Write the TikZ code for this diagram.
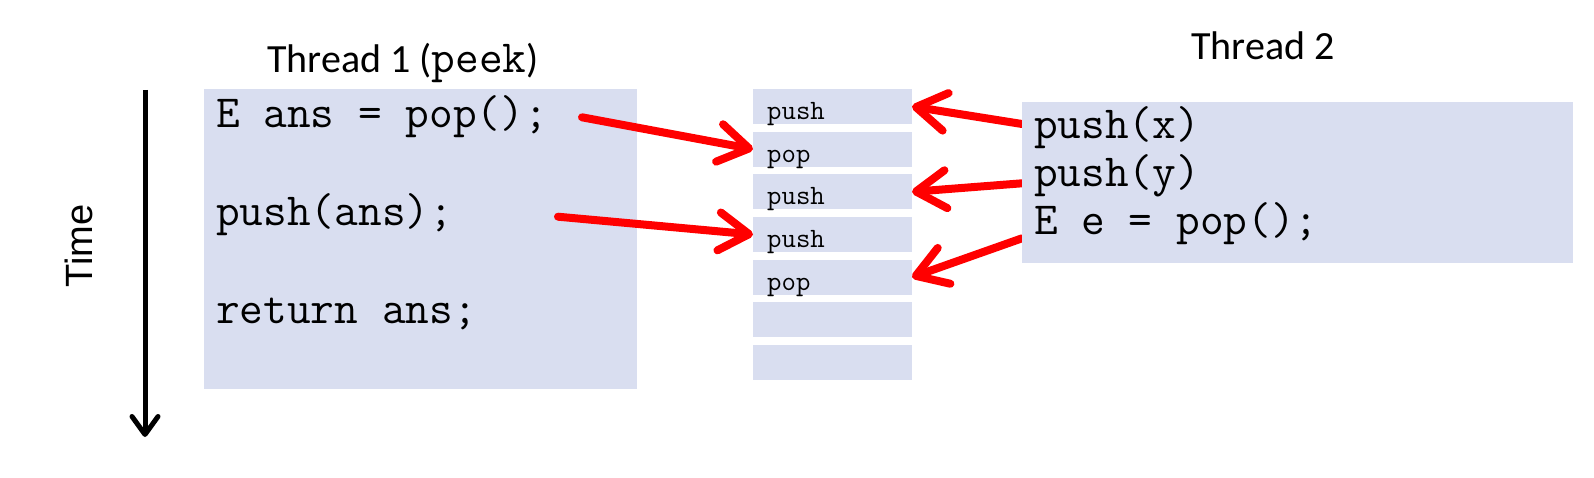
\documentclass[tikz,border=0pt]{standalone}
\usepackage{fontspec}
\setmainfont{Carlito}
\newfontfamily\timef{Liberation Sans}
\usetikzlibrary{arrows.meta}
\definecolor{boxfill}{RGB}{217,222,240}
\definecolor{arrred}{RGB}{255,0,0}
\begin{document}
\begin{tikzpicture}[x=1pt,y=-1pt,
  panel/.style={fill=boxfill, draw=none, rectangle, inner sep=0pt, outer sep=0pt, anchor=north west},
  cell/.style={panel, minimum width=159pt, minimum height=35pt},
  code/.style={inner sep=0pt, anchor=base west, font=\ttfamily\fontsize{46}{50}\selectfont},
  cellcode/.style={inner sep=0pt, anchor=base west, font=\ttfamily\fontsize{28}{30}\selectfont},
  title/.style={inner sep=0pt, anchor=base, font=\fontsize{40}{46}\selectfont},
  redarrow/.style={draw=arrred, line width=8pt, line cap=round, -{Straight Barb[length=30pt,width=38pt,line cap=round,line join=round]}},
  timearrow/.style={draw=black, line width=5pt, -{Straight Barb[length=18pt,width=26pt,line cap=round,line join=round]}}
]
\useasboundingbox (0,0) rectangle (1594,478);

% titles
\node[title] (t1title) at (403,73) {Thread 1 ({\ttfamily\fontsize{46}{46}\selectfont peek})};
\node[title] (t2title) at (1263,60) {Thread 2};

% time axis
\node[font=\timef\fontsize{38}{40}\selectfont, rotate=90, inner sep=0pt] (timelbl) at (79,246) {Time};
\coordinate (tstart) at (145,90);
\coordinate (tend) at (145,437);
\draw[timearrow] (tstart) -- (tend);

% thread 1
\node[panel, minimum width=433pt, minimum height=300pt] (t1box) at (204,89) {};
\node[code] (t1l1) at (216,128) {E ans = pop();};
\node[code] (t1l2) at (216,225.5) {push(ans);};
\node[code] (t1l3) at (216,323) {return ans;};

% stack cells
\foreach \i in {1,...,7}{
  \node[cell] (c\i) at (753,{89+42.67*(\i-1)}) {};
}
\node[cellcode] (c1t) at (767,119.5) {push};
\node[cellcode] (c2t) at (767,162.2) {pop};
\node[cellcode] (c3t) at (767,204.8) {push};
\node[cellcode] (c4t) at (767,247.5) {push};
\node[cellcode] (c5t) at (767,290.2) {pop};

% arrows
\coordinate (a1) at (582,117.3);
\coordinate (a2) at (558,216.7);
\coordinate (b1) at (1022,124);
\coordinate (b2) at (1022,183.3);
\coordinate (b3) at (1022,238.3);
\draw[redarrow] (a1) -- (c2.west);
\draw[redarrow] (a2) -- (c4.west);
\draw[redarrow] (b1) -- (c1.east);
\draw[redarrow] (b2) -- (c3.east);
\draw[redarrow] (b3) -- (c5.east);

% thread 2
\node[panel, minimum width=551pt, minimum height=161pt] (t2box) at (1022,102) {};
\node[code] (t2l1) at (1034,139) {push(x)};
\node[code] (t2l2) at (1034,187) {push(y)};
\node[code] (t2l3) at (1034,235) {E e = pop();};
\end{tikzpicture}
\end{document}
